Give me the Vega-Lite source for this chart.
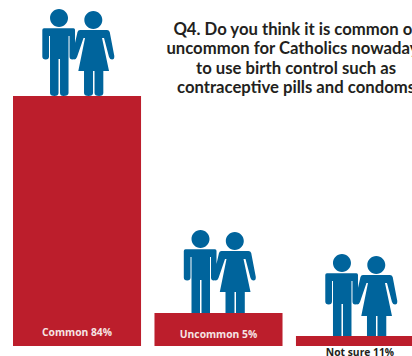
{"$schema":"https://vega.github.io/schema/vega-lite/v6.json","width":412,"height":356,"padding":0,"autosize":{"type":"none"},"background":"white","config":{"view":{"stroke":null}},"title":{"text":["Q4.  Do you think it is common or","uncommon for Catholics nowadays","to use birth control such as","contraceptive pills and condoms"],"anchor":"start","align":"center","frame":"group","dx":296,"dy":97,"fontSize":16.7,"font":"Lato","fontWeight":"bold","color":"#231f20","lineHeight":19.5,"baseline":"top","offset":0},"data":{"values":[{"answer":"Common","label":"Common 84%","bar":250,"figure":250},{"answer":"Uncommon","label":"Uncommon 5%","bar":33,"figure":29},{"answer":"Not sure","label":"Not sure 11%","bar":10,"figure":5}]},"encoding":{"x":{"field":"answer","type":"nominal","sort":null,"axis":null,"scale":{"range":[13,424],"paddingInner":0.095,"paddingOuter":0}},"y":{"type":"quantitative","axis":null,"scale":{"domain":[-10,346],"nice":false,"zero":false}}},"layer":[{"mark":{"type":"point","filled":true,"size":4,"opacity":1,"color":"#00649c","strokeWidth":0,"shape":"M-27,-78 A9,9 0 1 0 -9,-78 A9,9 0 1 0 -27,-78 Z M-33,-67.7 L-3.5,-67.7 Q-2,-67.7 -2,-66 L-2,-39.5 Q-2,-36.5 -4.8,-36.5 Q-7.5,-36.5 -7.5,-39.5 L-7.5,-60 L-8.5,-60 L-8.5,-3 Q-8.5,0 -13.5,0 Q-17,0 -17,-3 L-17,-37 L-18.5,-37 L-18.5,-3 Q-18.5,0 -22.5,0 Q-27,0 -27,-3 L-27,-60 L-28,-60 L-28,-39.5 Q-28,-36.5 -31.3,-36.5 Q-34.7,-36.5 -34.7,-39.5 L-34.7,-66 Q-34.7,-67.7 -33,-67.7 Z M7.3,-76 A9,9 0 1 0 25.3,-76 A9,9 0 1 0 7.3,-76 Z M3,-66 L30,-66 Q32,-66 32.7,-64 L37.3,-40 Q37.5,-36.5 35,-36.5 Q33,-36.5 32,-39 L27,-58 L25,-58 L32,-25 L26.3,-25 L26.3,-3 Q26.3,0 22,0 Q17.5,0 17.5,-3 L17.5,-25 L16,-25 L16,-3 Q16,0 11.5,0 Q7,0 7,-3 L7,-25 L1.3,-25 L8,-58 L6.5,-58 L0,-39 Q-1,-36.5 -3,-36.5 Q-5.5,-37 -5,-40 L0.5,-64 Q1,-66 3,-66 Z"},"encoding":{"y":{"field":"figure","type":"quantitative"}}},{"mark":{"type":"bar","color":"#bc1e2c"},"encoding":{"y":{"field":"bar","type":"quantitative"},"y2":{"datum":0}}},{"transform":[{"filter":"datum.answer==='Common'"}],"mark":{"type":"text","font":"Open Sans","fontWeight":"bold","fontSize":10.3,"color":"#f6e4e4","baseline":"middle","dy":-13},"encoding":{"y":{"datum":0},"text":{"field":"label"}}},{"transform":[{"filter":"datum.answer==='Uncommon'"}],"mark":{"type":"text","font":"Open Sans","fontWeight":"bold","fontSize":10.3,"color":"#f6e4e4","baseline":"middle","dy":-11},"encoding":{"y":{"datum":0},"text":{"field":"label"}}},{"transform":[{"filter":"datum.answer==='Not sure'"}],"mark":{"type":"text","font":"Open Sans","fontWeight":"bold","fontSize":10.3,"color":"#231f20","baseline":"middle","dy":6.5},"encoding":{"y":{"datum":0},"text":{"field":"label"}}}]}
